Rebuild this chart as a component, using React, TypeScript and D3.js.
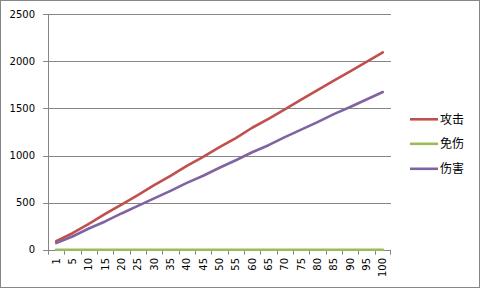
import React from "react";
import * as d3 from "d3";

const categories = ["1","5","10","15","20","25","30","35","40","45","50","55","60","65","70","75","80","85","90","95","100"];
const attack = [90,175,275,380,480,580,685,785,890,985,1090,1185,1295,1390,1490,1595,1695,1795,1895,1995,2095];
const immune = [0,0,0,0,0,0,0,0,0,0,0,0,0,0,0,0,0,0,0,0,0];
const damage = [70,140,225,300,385,465,545,625,710,785,870,950,1035,1110,1195,1275,1355,1440,1515,1595,1675];
const yTicks = [0,500,1000,1500,2000,2500];
const seriesNames = ["攻击","免伤","伤害"];
const seriesColors = ["#C0504D","#9BBB59","#8064A2"];

export default function App() {
  const W = 481, H = 289;
  const left = 48, right = 391, top = 14.3, bottom = 249.7;
  const x = d3.scaleBand<string>().domain(categories).range([left, right]);
  const y = d3.scaleLinear().domain([0, 2500]).range([bottom, top]);
  const series = [attack, immune, damage];
  const line = (vals: number[]) =>
    d3.line<number>().x((_, i) => x(categories[i])! + x.bandwidth() / 2).y(v => y(v))(vals) || "";
  const font = "DejaVu Sans, Verdana, sans-serif";
  const grid = "#868686";
  return (
    <svg width={W} height={H} style={{ position: "absolute", left: 0, top: 0, background: "#fff" }}>
      <rect x={0.5} y={0.5} width={479} height={287} fill="#fff" stroke={grid} strokeWidth={1} />
      {yTicks.map(t => (
        <g key={t}>
          <line x1={left - 5} x2={right} y1={Math.round(y(t)) + 0.5} y2={Math.round(y(t)) + 0.5} stroke={grid} strokeWidth={1} />
          <text x={35} y={y(t)} dy="0.35em" textAnchor="end" fontFamily={font} fontSize={10} fill="#000">{t}</text>
        </g>
      ))}
      <line x1={left + 0.5} x2={left + 0.5} y1={top} y2={bottom + 0.5} stroke={grid} strokeWidth={1} />
      {categories.map((c, i) => {
        const tx = Math.round(left + i * x.step()) + 0.5;
        return <line key={"t" + c} x1={tx} x2={tx} y1={bottom} y2={bottom + 5} stroke={grid} strokeWidth={1} />;
      })}
      <line x1={right - 0.5} x2={right - 0.5} y1={bottom} y2={bottom + 5} stroke={grid} strokeWidth={1} />
      {categories.map(c => {
        const cx = x(c)! + x.bandwidth() / 2;
        return (
          <text key={"l" + c} transform={`translate(${cx + 3.6},258) rotate(-90)`} textAnchor="end"
            fontFamily={font} fontSize={10} fill="#000">{c}</text>
        );
      })}
      {series.map((s, k) => (
        <path key={"s" + k} d={line(s)} fill="none" stroke={seriesColors[k]} strokeWidth={2.6} strokeLinejoin="round" strokeLinecap="round" />
      ))}
      {seriesNames.map((n, k) => {
        const ly = [119.3, 143.8, 168.8][k];
        return (
          <g key={"lg" + k}>
            <line x1={410} x2={438} y1={ly} y2={ly} stroke={seriesColors[k]} strokeWidth={2.6} />
            <text x={440} y={ly} dy="0.36em" fontFamily="Noto Sans CJK SC, sans-serif" fontSize={12} fill="#000">{n}</text>
          </g>
        );
      })}
    </svg>
  );
}
